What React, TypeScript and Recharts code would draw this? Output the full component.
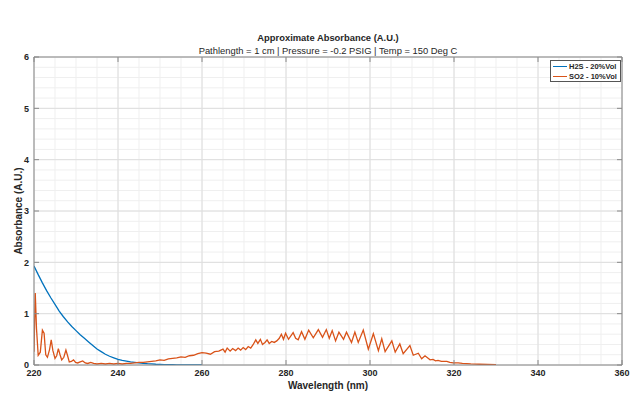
import React from "react";
import {
  LineChart,
  Line,
  XAxis,
  YAxis,
  CartesianGrid,
  Legend,
} from "recharts";

// H2S - 20%Vol, smooth decay
const h2sWavelength = [
  220, 221, 222, 223, 224, 225, 226, 227, 228, 229, 230, 231, 232, 233, 234,
  235, 236, 237, 238, 239, 240, 241, 242, 243, 244, 245, 246, 247, 248, 249,
  250, 251, 252, 253, 254, 255, 256, 257, 258, 259, 260,
];
const h2sAbsorbance = [
  1.93, 1.76, 1.6, 1.45, 1.31, 1.18, 1.05, 0.94, 0.84, 0.75, 0.67, 0.59, 0.52,
  0.45, 0.38, 0.31, 0.26, 0.21, 0.17, 0.14, 0.11, 0.09, 0.075, 0.06, 0.05, 0.04,
  0.032, 0.025, 0.02, 0.015, 0.012, 0.009, 0.007, 0.005, 0.004, 0.003, 0.002,
  0.001, 0.001, 0, 0,
];

// SO2 - 10%Vol, banded spectrum
const so2Wavelength = [
  220.0, 220.3, 220.6, 221.0, 221.5, 222.0, 222.4, 222.8, 223.2, 223.7, 224.1,
  224.5, 225.0, 225.4, 225.8, 226.2, 226.6, 227.1, 227.6, 228.0, 228.4, 228.9,
  229.4, 229.9, 230.4, 231.0, 231.6, 232.2, 232.8, 233.5, 234.2, 235, 236, 237,
  238, 239, 240, 241, 242, 243, 244, 245, 246, 247, 248, 249, 250, 251, 252,
  253, 254, 255, 256, 257, 258, 259, 260, 261, 262, 263, 264, 265, 265.5, 266,
  266.7, 267.3, 268, 268.6, 269.2, 269.8, 270.4, 271, 271.6, 272.2, 272.8,
  273.3, 273.9, 274.4, 275, 275.5, 276, 276.6, 277.2, 277.8, 278.4, 278.9,
  279.4, 279.9, 280.6, 281.7, 282.3, 282.9, 283.7, 284.5, 285.4, 286.5, 287.7,
  288.7, 289.6, 290.3, 291.0, 291.8, 292.6, 293.7, 294.4, 295.6, 296.4, 297.2,
  298.4, 299.6, 300.8, 302.0, 302.8, 303.6, 305.2, 306.0, 307.1, 307.9, 309.5,
  310.3, 311.5, 312.3, 313.1, 314.3, 315.0, 315.6, 316.2, 317.0, 318.3, 319.0,
  319.8, 321, 322, 324, 326, 328, 330,
];
const so2Absorbance = [
  0.26, 1.4, 0.7, 0.19, 0.25, 0.68, 0.62, 0.2, 0.15, 0.3, 0.49, 0.28, 0.13,
  0.18, 0.32, 0.2, 0.1, 0.15, 0.29, 0.18, 0.06, 0.07, 0.1, 0.05, 0.04, 0.06,
  0.08, 0.04, 0.03, 0.05, 0.03, 0.02, 0.03, 0.02, 0.03, 0.02, 0.03, 0.02, 0.03,
  0.03, 0.04, 0.05, 0.05, 0.06, 0.07, 0.08, 0.1, 0.09, 0.12, 0.13, 0.14, 0.16,
  0.15, 0.18, 0.19, 0.22, 0.24, 0.23, 0.21, 0.26, 0.27, 0.31, 0.25, 0.33, 0.27,
  0.32, 0.28, 0.33, 0.29, 0.34, 0.3, 0.36, 0.33, 0.4, 0.49, 0.42, 0.5, 0.4,
  0.44, 0.49, 0.42, 0.46, 0.44, 0.47, 0.52, 0.6, 0.5, 0.62, 0.5, 0.63, 0.52,
  0.49, 0.65, 0.5, 0.68, 0.53, 0.69, 0.54, 0.69, 0.52, 0.67, 0.47, 0.64, 0.5,
  0.64, 0.44, 0.64, 0.44, 0.68, 0.31, 0.61, 0.28, 0.51, 0.26, 0.47, 0.25, 0.41,
  0.22, 0.38, 0.19, 0.23, 0.12, 0.18, 0.1, 0.11, 0.08, 0.09, 0.07, 0.07, 0.05,
  0.04, 0.04, 0.03, 0.02, 0.015, 0.01, 0.005,
];

const xTicks = [220, 240, 260, 280, 300, 320, 340, 360];
const yTicks = [0, 1, 2, 3, 4, 5, 6];

// minor grid every 5 nm / 0.2 A.U.
const xMinor = Array.from({ length: 29 }, (_, i) => 220 + i * 5);
const yMinor = Array.from({ length: 31 }, (_, i) => Math.round(i * 2) / 10);

const h2sData = h2sWavelength.map((wl, i) => ({ wl, value: h2sAbsorbance[i] }));
const so2Data = so2Wavelength.map((wl, i) => ({ wl, value: so2Absorbance[i] }));

const FONT = "'Liberation Sans', Arial, sans-serif";
const AXIS = "#8a8a8a";
const tickStyle = { fill: "#262626", fontSize: 9, fontWeight: "bold", fontFamily: FONT };

// box axes: only draw an inward tick at the major values
const TopTick = ({ x, y, payload }: any) =>
  xTicks.includes(payload.value) ? (
    <line x1={x} x2={x} y1={y} y2={y + 5} stroke={AXIS} />
  ) : null;
const RightTick = ({ x, y, payload }: any) =>
  yTicks.includes(payload.value) ? (
    <line x1={x - 5} x2={x} y1={y} y2={y} stroke={AXIS} />
  ) : null;

const LegendBox = (props: any) => (
  <div
    style={{
      boxSizing: "border-box",
      width: 71,
      height: 22,
      border: "1px solid #555",
      background: "#fff",
      padding: "1px 0 0 2px",
      fontFamily: FONT,
      fontSize: 7.5,
      fontWeight: "bold",
      color: "#262626",
      lineHeight: "9.5px",
      whiteSpace: "nowrap",
    }}
  >
    {(props.payload || []).map((p: any) => (
      <div key={p.value} style={{ display: "flex", alignItems: "center" }}>
        <span
          style={{
            display: "inline-block",
            width: 14,
            height: 0,
            borderTop: `1.5px solid ${p.color}`,
            marginRight: 2,
          }}
        />
        {p.value}
      </div>
    ))}
  </div>
);

export default function App() {
  return (
    <div style={{ position: "fixed", left: 0, top: 0, width: 644, height: 420, background: "#fff" }}>
      <div
        style={{
          position: "absolute",
          left: 34,
          width: 588,
          top: 32,
          textAlign: "center",
          fontFamily: FONT,
          color: "#262626",
          zIndex: 1,
        }}
      >
        <div style={{ fontSize: 9.4, fontWeight: "bold", lineHeight: "12px" }}>
          Approximate Absorbance (A.U.)
        </div>
        <div style={{ fontSize: 9.4, lineHeight: "13px" }}>
          Pathlength = 1 cm | Pressure = -0.2 PSIG | Temp = 150 Deg C
        </div>
      </div>
      <LineChart
        width={644}
        height={420}
        margin={{ top: 56, right: 21, bottom: 15, left: 20 }}
      >
        <CartesianGrid xAxisId="top" yAxisId="right" stroke="#efefef" strokeWidth={1} />
        <CartesianGrid stroke="#dedede" strokeWidth={1} />
        <XAxis
          type="number"
          dataKey="wl"
          domain={[220, 360]}
          ticks={xTicks}
          allowDataOverflow
          height={40}
          tickSize={-5}
          tickMargin={10}
          stroke={AXIS}
          tick={tickStyle}
          label={{
            value: "Wavelength (nm)",
            position: "insideBottom",
            offset: 16,
            style: { fill: "#262626", fontSize: 10, fontWeight: "bold", fontFamily: FONT },
          }}
        />
        <XAxis
          xAxisId="top"
          orientation="top"
          type="number"
          dataKey="wl"
          domain={[220, 360]}
          ticks={xMinor}
          interval={0}
          allowDataOverflow
          height={1}
          tickSize={0}
          tickMargin={0}
          tickLine={false}
          stroke={AXIS}
          tick={TopTick}
        />
        <YAxis
          type="number"
          domain={[0, 6]}
          ticks={yTicks}
          allowDataOverflow
          width={14}
          tickSize={-5}
          tickMargin={10}
          stroke={AXIS}
          tick={tickStyle}
          label={{
            value: "Absorbance (A.U.)",
            angle: -90,
            position: "center",
            dx: -9,
            style: { fill: "#262626", fontSize: 10, fontWeight: "bold", fontFamily: FONT, textAnchor: "middle" },
          }}
        />
        <YAxis
          yAxisId="right"
          orientation="right"
          type="number"
          domain={[0, 6]}
          ticks={yMinor}
          interval={0}
          allowDataOverflow
          width={1}
          tickSize={0}
          tickMargin={0}
          tickLine={false}
          stroke={AXIS}
          tick={RightTick}
        />
        <Line
          data={h2sData}
          dataKey="value"
          name="H2S - 20%Vol"
          type="linear"
          stroke="#0072BD"
          strokeWidth={1.3}
          dot={false}
          isAnimationActive={false}
        />
        <Line
          data={so2Data}
          dataKey="value"
          name="SO2 - 10%Vol"
          type="linear"
          stroke="#D95319"
          strokeWidth={1.3}
          dot={false}
          isAnimationActive={false}
        />
        <Legend
          layout="vertical"
          align="center"
          verticalAlign="middle"
          content={<LegendBox />}
          wrapperStyle={{ position: "absolute", left: 550, top: 60, width: "auto" }}
        />
      </LineChart>
    </div>
  );
}
